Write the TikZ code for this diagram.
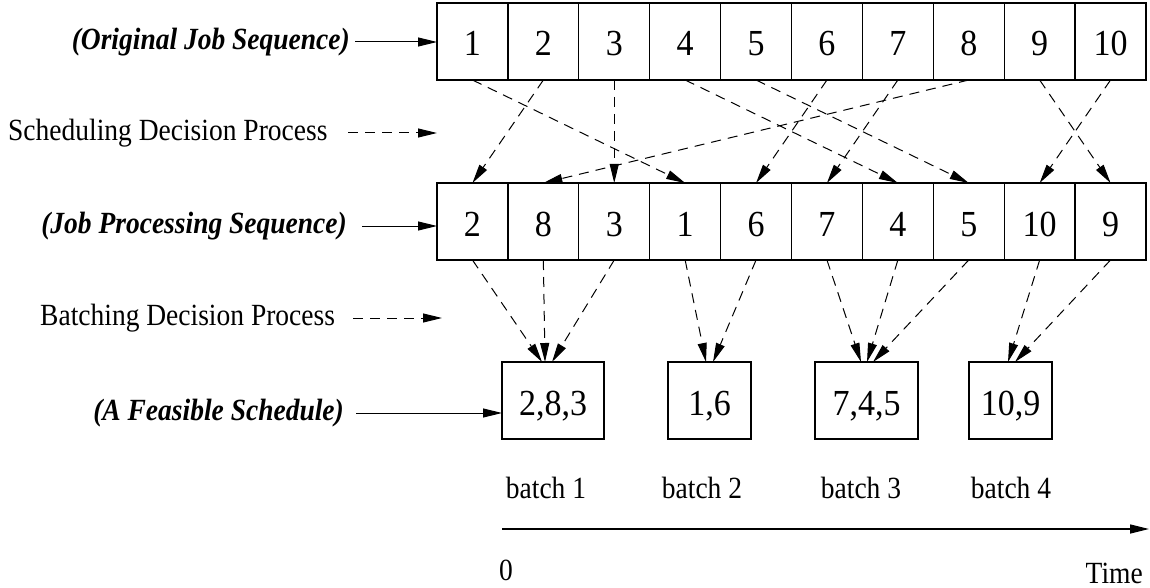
\documentclass[tikz,border=0pt]{standalone}
\usepackage{fontspec}
\setmainfont{Liberation Serif}
\usetikzlibrary{arrows.meta}
\newcommand\tallL[1]{\scalebox{1}[1.12]{#1}}
\newcommand\tallD[1]{\scalebox{1}[1.08]{#1}}
\begin{document}
\begin{tikzpicture}[x=1pt,y=-1pt,
  cell/.style={draw,line width=1.3pt,minimum width=70.9pt,minimum height=77pt,inner sep=0pt,outer sep=0pt,text height=29pt,text depth=0pt,font=\fontsize{34}{36}\selectfont},
  bbox/.style={draw,line width=1.3pt,minimum height=77pt,inner sep=0pt,outer sep=0pt,text height=29pt,text depth=0pt,font=\fontsize{34}{36}\selectfont},
  lbl/.style={inner sep=0pt,font=\fontsize{27.5}{30}\selectfont},
  blbl/.style={inner sep=0pt,font=\fontsize{27.5}{30}\selectfont\bfseries\itshape},
  tip/.style={-{Triangle[length=19pt,width=9pt]}},
  solidarrow/.style={tip,line width=1pt},
  dasharrow/.style={tip,line width=1pt,dash pattern=on 10pt off 7pt},
]
\useasboundingbox (0,0) rectangle (1150,588);

% rows
\foreach \n [count=\i] in {1,2,3,4,5,6,7,8,9,10}
  \node[cell] (t\i) at ({437+70.9*(\i-0.5)},41.5) {\tallD{\n}};
\foreach \n [count=\i] in {2,8,3,1,6,7,4,5,10,9}
  \node[cell] (m\i) at ({437+70.9*(\i-0.5)},221.5) {\tallD{\n}};

% batches
\node[bbox,minimum width=102pt] (b1) at (553,400.5) {\tallD{2,8,3}};
\node[bbox,minimum width=83pt] (b2) at (709.5,400.5) {\tallD{1,6}};
\node[bbox,minimum width=103pt] (b3) at (866.5,400.5) {\tallD{7,4,5}};
\node[bbox,minimum width=83pt] (b4) at (1010.5,400.5) {\tallD{10,9}};

% left labels
\node[blbl,anchor=east] (lo) at (350,42) {\tallL{(Original Job Sequence)}};
\node[lbl,anchor=west] (ls) at (8,133) {\tallL{Scheduling Decision Process}};
\node[blbl,anchor=east] (lm) at (347,226) {\tallL{(Job Processing Sequence)}};
\node[lbl,anchor=west] (lb) at (40,318) {\tallL{Batching Decision Process}};
\node[blbl,anchor=east] (lf) at (344,413) {\tallL{(A Feasible Schedule)}};

\coordinate (sEnd) at (437,133);
\coordinate (bEnd) at (442,318);

\draw[solidarrow] ([xshift=5pt]lo.east) -- (lo.east -| t1.west);
\draw[solidarrow] ([xshift=15pt]lm.east) -- (lm.east -| m1.west);
\draw[solidarrow] ([xshift=12pt]lf.east) -- (lf.east -| b1.west);
\draw[dasharrow] (348,133) -- (sEnd);
\draw[dasharrow] (353,318) -- (bEnd);

% scheduling decisions
\foreach \a/\b in {1/4,2/1,3/3,4/7,5/8,6/5,7/6,8/2,9/10,10/9}
  \draw[dasharrow] (t\a.south) -- (m\b.north);

% batching decisions
\draw[dasharrow] (m1.south) -- ([xshift=-11pt]b1.north);
\draw[dasharrow] (m2.south) -- ([xshift=-8pt]b1.north);
\draw[dasharrow] (m3.south) -- ([xshift=-1pt]b1.north);
\draw[dasharrow] (m4.south) -- ([xshift=-3.5pt]b2.north);
\draw[dasharrow] (m5.south) -- ([xshift=3.5pt]b2.north);
\draw[dasharrow] (m6.south) -- ([xshift=-5.5pt]b3.north);
\draw[dasharrow] (m7.south) -- ([xshift=0.5pt]b3.north);
\draw[dasharrow] (m8.south) -- ([xshift=6.5pt]b3.north);
\draw[dasharrow] (m9.south) -- ([xshift=-2.5pt]b4.north);
\draw[dasharrow] (m10.south) -- ([xshift=4.5pt]b4.north);

% batch labels and time axis
\node[lbl] (bl1) at (546,488) {\tallL{batch 1}};
\node[lbl] (bl2) at (702,488) {\tallL{batch 2}};
\node[lbl] (bl3) at (861,488) {\tallL{batch 3}};
\node[lbl] (bl4) at (1011,488) {\tallL{batch 4}};

\coordinate (ax0) at (502,529);
\coordinate (ax1) at (1149,529);
\draw[solidarrow,line width=1.3pt] (ax0) -- (ax1);
\node[lbl] (zero) at (506,570) {\tallL{0}};
\node[lbl,anchor=east] (time) at (1143,573) {\tallL{Time}};
\end{tikzpicture}
\end{document}
